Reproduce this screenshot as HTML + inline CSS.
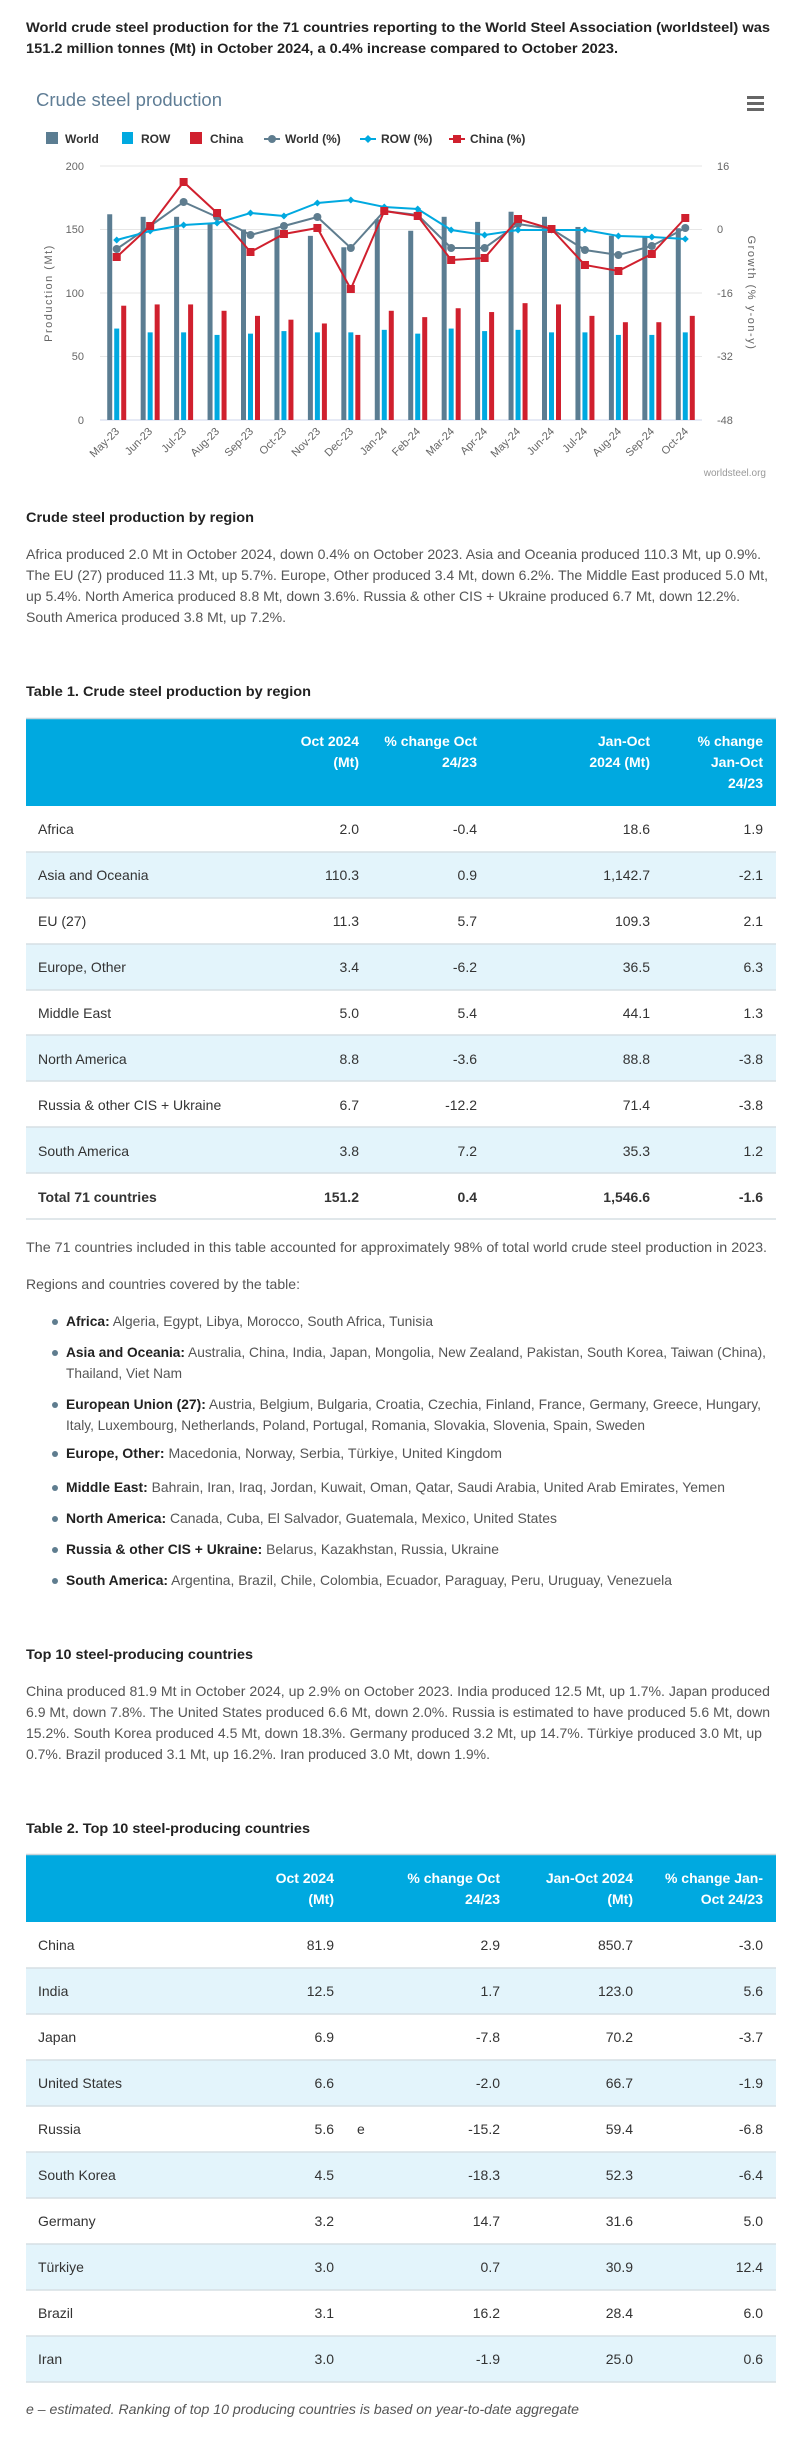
<!DOCTYPE html>
<html><head><meta charset="utf-8"><style>
html,body{margin:0;padding:0;background:#fff}
svg{display:block}
text{font-family:"Liberation Sans",Arial,sans-serif}
.b{font-weight:bold}
.body{font-size:14px;fill:#555}
.td{font-size:14px;fill:#333}
.th{font-size:14px;fill:#fff;font-weight:bold}
.ax{font-size:11px;fill:#666}
.lg{font-size:12px;fill:#333;font-weight:bold}
</style></head><body>
<svg id="s" width="788" height="2446" viewBox="0 0 788 2446" xmlns="http://www.w3.org/2000/svg">
<rect width="788" height="2446" fill="#fff"/>
<text x="26" y="32" class="b" font-size="14" fill="#222" textLength="744" lengthAdjust="spacingAndGlyphs">World crude steel production for the 71 countries reporting to the World Steel Association (worldsteel) was</text>
<text x="26" y="53" class="b" font-size="14" fill="#222" textLength="592" lengthAdjust="spacingAndGlyphs">151.2 million tonnes (Mt) in October 2024, a 0.4% increase compared to October 2023.</text>

<!-- chart -->
<text x="36" y="106" font-size="18" fill="#5f7d95" textLength="186" lengthAdjust="spacingAndGlyphs">Crude steel production</text>
<rect x="747" y="96" width="17" height="3" fill="#666"/><rect x="747" y="102" width="17" height="3" fill="#666"/><rect x="747" y="108" width="17" height="3" fill="#666"/>

<rect x="46" y="132" width="12" height="12" fill="#5b7d92"/><text x="65" y="143" class="lg">World</text>
<rect x="122" y="132" width="11" height="12" fill="#00a9e0"/><text x="141" y="143" class="lg">ROW</text>
<rect x="190" y="132" width="12" height="12" fill="#d0202e"/><text x="210" y="143" class="lg">China</text>
<line x1="264" y1="139" x2="280" y2="139" stroke="#5f7d8f" stroke-width="2"/><circle cx="272" cy="139" r="4" fill="#5f7d8f"/><text x="285" y="143" class="lg">World (%)</text>
<line x1="360" y1="139" x2="376" y2="139" stroke="#00a9e0" stroke-width="2"/><path d="M368 135 L372 139 L368 143 L364 139Z" fill="#00a9e0"/><text x="381" y="143" class="lg">ROW (%)</text>
<line x1="449" y1="139" x2="465" y2="139" stroke="#d0202e" stroke-width="2"/><rect x="453" y="135" width="8" height="8" fill="#d0202e"/><text x="470" y="143" class="lg">China (%)</text>

<g stroke="#e6e6e6" stroke-width="1">
<line x1="100" y1="166" x2="702" y2="166"/><line x1="100" y1="229.5" x2="702" y2="229.5"/><line x1="100" y1="293" x2="702" y2="293"/><line x1="100" y1="356.5" x2="702" y2="356.5"/>
</g>
<line x1="100" y1="420" x2="702" y2="420" stroke="#ccd6eb" stroke-width="1"/>
<g class="ax" text-anchor="end">
<text x="84" y="170">200</text><text x="84" y="233">150</text><text x="84" y="297">100</text><text x="84" y="360">50</text><text x="84" y="424">0</text>
</g>
<g class="ax">
<text x="717" y="170">16</text><text x="717" y="233">0</text><text x="717" y="297">-16</text><text x="717" y="360">-32</text><text x="717" y="424">-48</text>
</g>
<text transform="translate(52,293) rotate(-90)" text-anchor="middle" font-size="11" fill="#666" letter-spacing="1.5">Production (Mt)</text>
<text transform="translate(748,293) rotate(90)" text-anchor="middle" font-size="11" fill="#666" letter-spacing="1.5">Growth (% y-on-y)</text>
<g id="bars"></g><g id="lines"></g>
<text x="766" y="476" text-anchor="end" font-size="10" fill="#999">worldsteel.org</text>

<!-- section 1 -->
<text x="26" y="522" class="b" font-size="14" fill="#222" textLength="228" lengthAdjust="spacingAndGlyphs">Crude steel production by region</text>
<g class="body">
<text x="26" y="559" textLength="735" lengthAdjust="spacingAndGlyphs">Africa produced 2.0 Mt in October 2024, down 0.4% on October 2023. Asia and Oceania produced 110.3 Mt, up 0.9%.</text>
<text x="26" y="580" textLength="742" lengthAdjust="spacingAndGlyphs">The EU (27) produced 11.3 Mt, up 5.7%. Europe, Other produced 3.4 Mt, down 6.2%. The Middle East produced 5.0 Mt,</text>
<text x="26" y="601" textLength="714" lengthAdjust="spacingAndGlyphs">up 5.4%. North America produced 8.8 Mt, down 3.6%. Russia &amp; other CIS + Ukraine produced 6.7 Mt, down 12.2%.</text>
<text x="26" y="622" textLength="260" lengthAdjust="spacingAndGlyphs">South America produced 3.8 Mt, up 7.2%.</text>
</g>
<text x="26" y="696" class="b" font-size="14" fill="#222" textLength="285" lengthAdjust="spacingAndGlyphs">Table 1. Crude steel production by region</text>

<rect x="26" y="718" width="750" height="88" fill="#00a9e0"/>
<line x1="26" y1="718.5" x2="776" y2="718.5" stroke="#c8d3d9" stroke-width="1.5"/>
<g class="th" text-anchor="end">
<text x="359" y="746">Oct 2024</text><text x="359" y="767">(Mt)</text>
<text x="477" y="746">% change Oct</text><text x="477" y="767">24/23</text>
<text x="650" y="746">Jan-Oct</text><text x="650" y="767">2024 (Mt)</text>
<text x="763" y="746">% change</text><text x="763" y="767">Jan-Oct</text><text x="763" y="788">24/23</text>
</g>

<text x="26" y="1252" class="body" textLength="741" lengthAdjust="spacingAndGlyphs">The 71 countries included in this table accounted for approximately 98% of total world crude steel production in 2023.</text>
<text x="26" y="1289" class="body" textLength="274" lengthAdjust="spacingAndGlyphs">Regions and countries covered by the table:</text>
<g fill="#5f7d8f">
<circle cx="55" cy="1322" r="3"/><circle cx="55" cy="1353" r="3"/><circle cx="55" cy="1405" r="3"/><circle cx="55" cy="1454" r="3"/><circle cx="55" cy="1488" r="3"/><circle cx="55" cy="1519" r="3"/><circle cx="55" cy="1550" r="3"/><circle cx="55" cy="1581" r="3"/>
</g>
<g class="body">
<text x="66" y="1326" textLength="367" lengthAdjust="spacingAndGlyphs"><tspan class="b" fill="#222">Africa:</tspan> Algeria, Egypt, Libya, Morocco, South Africa, Tunisia</text>
<text x="66" y="1357" textLength="700" lengthAdjust="spacingAndGlyphs"><tspan class="b" fill="#222">Asia and Oceania:</tspan> Australia, China, India, Japan, Mongolia, New Zealand, Pakistan, South Korea, Taiwan (China),</text>
<text x="66" y="1378" textLength="116" lengthAdjust="spacingAndGlyphs">Thailand, Viet Nam</text>
<text x="66" y="1409" textLength="695" lengthAdjust="spacingAndGlyphs"><tspan class="b" fill="#222">European Union (27):</tspan> Austria, Belgium, Bulgaria, Croatia, Czechia, Finland, France, Germany, Greece, Hungary,</text>
<text x="66" y="1430" textLength="579" lengthAdjust="spacingAndGlyphs">Italy, Luxembourg, Netherlands, Poland, Portugal, Romania, Slovakia, Slovenia, Spain, Sweden</text>
<text x="66" y="1458" textLength="436" lengthAdjust="spacingAndGlyphs"><tspan class="b" fill="#222">Europe, Other:</tspan> Macedonia, Norway, Serbia, Türkiye, United Kingdom</text>
<text x="66" y="1492" textLength="659" lengthAdjust="spacingAndGlyphs"><tspan class="b" fill="#222">Middle East:</tspan> Bahrain, Iran, Iraq, Jordan, Kuwait, Oman, Qatar, Saudi Arabia, United Arab Emirates, Yemen</text>
<text x="66" y="1523" textLength="491" lengthAdjust="spacingAndGlyphs"><tspan class="b" fill="#222">North America:</tspan> Canada, Cuba, El Salvador, Guatemala, Mexico, United States</text>
<text x="66" y="1554" textLength="433" lengthAdjust="spacingAndGlyphs"><tspan class="b" fill="#222">Russia &amp; other CIS + Ukraine:</tspan> Belarus, Kazakhstan, Russia, Ukraine</text>
<text x="66" y="1585" textLength="606" lengthAdjust="spacingAndGlyphs"><tspan class="b" fill="#222">South America:</tspan> Argentina, Brazil, Chile, Colombia, Ecuador, Paraguay, Peru, Uruguay, Venezuela</text>
</g>

<text x="26" y="1659" class="b" font-size="14" fill="#222" textLength="227" lengthAdjust="spacingAndGlyphs">Top 10 steel-producing countries</text>
<g class="body">
<text x="26" y="1696" textLength="744" lengthAdjust="spacingAndGlyphs">China produced 81.9 Mt in October 2024, up 2.9% on October 2023. India produced 12.5 Mt, up 1.7%. Japan produced</text>
<text x="26" y="1717" textLength="744" lengthAdjust="spacingAndGlyphs">6.9 Mt, down 7.8%. The United States produced 6.6 Mt, down 2.0%. Russia is estimated to have produced 5.6 Mt, down</text>
<text x="26" y="1738" textLength="736" lengthAdjust="spacingAndGlyphs">15.2%. South Korea produced 4.5 Mt, down 18.3%. Germany produced 3.2 Mt, up 14.7%. Türkiye produced 3.0 Mt, up</text>
<text x="26" y="1759" textLength="464" lengthAdjust="spacingAndGlyphs">0.7%. Brazil produced 3.1 Mt, up 16.2%. Iran produced 3.0 Mt, down 1.9%.</text>
</g>
<text x="26" y="1833" class="b" font-size="14" fill="#222" textLength="284" lengthAdjust="spacingAndGlyphs">Table 2. Top 10 steel-producing countries</text>

<rect x="26" y="1854" width="750" height="68" fill="#00a9e0"/>
<line x1="26" y1="1854.5" x2="776" y2="1854.5" stroke="#c8d3d9" stroke-width="1.5"/>
<g class="th" text-anchor="end">
<text x="334" y="1883">Oct 2024</text><text x="334" y="1904">(Mt)</text>
<text x="500" y="1883">% change Oct</text><text x="500" y="1904">24/23</text>
<text x="633" y="1883">Jan-Oct 2024</text><text x="633" y="1904">(Mt)</text>
<text x="763" y="1883">% change Jan-</text><text x="763" y="1904">Oct 24/23</text>
</g>
<text x="26" y="2414" font-size="14" font-style="italic" fill="#555" textLength="553" lengthAdjust="spacingAndGlyphs">e – estimated. Ranking of top 10 producing countries is based on year-to-date aggregate</text>

<!-- table 1 rows -->
<g>
<rect x="26" y="852" width="750" height="46" fill="#e3f4fb"/>
<rect x="26" y="944" width="750" height="46" fill="#e3f4fb"/>
<rect x="26" y="1035" width="750" height="46" fill="#e3f4fb"/>
<rect x="26" y="1127" width="750" height="46" fill="#e3f4fb"/>
<g stroke="#d6dfe4" stroke-width="1.5">
<line x1="26" y1="852" x2="776" y2="852"/><line x1="26" y1="898" x2="776" y2="898"/><line x1="26" y1="944" x2="776" y2="944"/><line x1="26" y1="990" x2="776" y2="990"/><line x1="26" y1="1035" x2="776" y2="1035"/><line x1="26" y1="1081" x2="776" y2="1081"/><line x1="26" y1="1127" x2="776" y2="1127"/><line x1="26" y1="1173" x2="776" y2="1173"/><line x1="26" y1="1219" x2="776" y2="1219"/>
</g>
<g class="td">
<text x="38" y="834">Africa</text><text x="38" y="880">Asia and Oceania</text><text x="38" y="926">EU (27)</text><text x="38" y="972">Europe, Other</text><text x="38" y="1018">Middle East</text><text x="38" y="1064">North America</text><text x="38" y="1110">Russia &amp; other CIS + Ukraine</text><text x="38" y="1156">South America</text><text x="38" y="1202" class="b">Total 71 countries</text>
</g>
<g class="td" text-anchor="end">
<text x="359" y="834">2.0</text><text x="477" y="834">-0.4</text><text x="650" y="834">18.6</text><text x="763" y="834">1.9</text>
<text x="359" y="880">110.3</text><text x="477" y="880">0.9</text><text x="650" y="880">1,142.7</text><text x="763" y="880">-2.1</text>
<text x="359" y="926">11.3</text><text x="477" y="926">5.7</text><text x="650" y="926">109.3</text><text x="763" y="926">2.1</text>
<text x="359" y="972">3.4</text><text x="477" y="972">-6.2</text><text x="650" y="972">36.5</text><text x="763" y="972">6.3</text>
<text x="359" y="1018">5.0</text><text x="477" y="1018">5.4</text><text x="650" y="1018">44.1</text><text x="763" y="1018">1.3</text>
<text x="359" y="1064">8.8</text><text x="477" y="1064">-3.6</text><text x="650" y="1064">88.8</text><text x="763" y="1064">-3.8</text>
<text x="359" y="1110">6.7</text><text x="477" y="1110">-12.2</text><text x="650" y="1110">71.4</text><text x="763" y="1110">-3.8</text>
<text x="359" y="1156">3.8</text><text x="477" y="1156">7.2</text><text x="650" y="1156">35.3</text><text x="763" y="1156">1.2</text>
<g class="b"><text x="359" y="1202">151.2</text><text x="477" y="1202">0.4</text><text x="650" y="1202">1,546.6</text><text x="763" y="1202">-1.6</text></g>
</g>
</g>

<!-- table 2 rows -->
<g>
<rect x="26" y="1968" width="750" height="46" fill="#e3f4fb"/>
<rect x="26" y="2060" width="750" height="46" fill="#e3f4fb"/>
<rect x="26" y="2152" width="750" height="46" fill="#e3f4fb"/>
<rect x="26" y="2244" width="750" height="46" fill="#e3f4fb"/>
<rect x="26" y="2336" width="750" height="46" fill="#e3f4fb"/>
<g stroke="#d6dfe4" stroke-width="1.5">
<line x1="26" y1="1968" x2="776" y2="1968"/><line x1="26" y1="2014" x2="776" y2="2014"/><line x1="26" y1="2060" x2="776" y2="2060"/><line x1="26" y1="2106" x2="776" y2="2106"/><line x1="26" y1="2152" x2="776" y2="2152"/><line x1="26" y1="2198" x2="776" y2="2198"/><line x1="26" y1="2244" x2="776" y2="2244"/><line x1="26" y1="2290" x2="776" y2="2290"/><line x1="26" y1="2336" x2="776" y2="2336"/><line x1="26" y1="2382" x2="776" y2="2382"/>
</g>
<g class="td">
<text x="38" y="1950">China</text><text x="38" y="1996">India</text><text x="38" y="2042">Japan</text><text x="38" y="2088">United States</text><text x="38" y="2134">Russia</text><text x="38" y="2180">South Korea</text><text x="38" y="2226">Germany</text><text x="38" y="2272">Türkiye</text><text x="38" y="2318">Brazil</text><text x="38" y="2364">Iran</text>
<text x="357" y="2134">e</text>
</g>
<g class="td" text-anchor="end">
<text x="334" y="1950">81.9</text><text x="500" y="1950">2.9</text><text x="633" y="1950">850.7</text><text x="763" y="1950">-3.0</text>
<text x="334" y="1996">12.5</text><text x="500" y="1996">1.7</text><text x="633" y="1996">123.0</text><text x="763" y="1996">5.6</text>
<text x="334" y="2042">6.9</text><text x="500" y="2042">-7.8</text><text x="633" y="2042">70.2</text><text x="763" y="2042">-3.7</text>
<text x="334" y="2088">6.6</text><text x="500" y="2088">-2.0</text><text x="633" y="2088">66.7</text><text x="763" y="2088">-1.9</text>
<text x="334" y="2134">5.6</text><text x="500" y="2134">-15.2</text><text x="633" y="2134">59.4</text><text x="763" y="2134">-6.8</text>
<text x="334" y="2180">4.5</text><text x="500" y="2180">-18.3</text><text x="633" y="2180">52.3</text><text x="763" y="2180">-6.4</text>
<text x="334" y="2226">3.2</text><text x="500" y="2226">14.7</text><text x="633" y="2226">31.6</text><text x="763" y="2226">5.0</text>
<text x="334" y="2272">3.0</text><text x="500" y="2272">0.7</text><text x="633" y="2272">30.9</text><text x="763" y="2272">12.4</text>
<text x="334" y="2318">3.1</text><text x="500" y="2318">16.2</text><text x="633" y="2318">28.4</text><text x="763" y="2318">6.0</text>
<text x="334" y="2364">3.0</text><text x="500" y="2364">-1.9</text><text x="633" y="2364">25.0</text><text x="763" y="2364">0.6</text>
</g>
</g>

<g class="ax" text-anchor="end">
<text transform="translate(120,432) rotate(-45)">May-23</text>
<text transform="translate(153,432) rotate(-45)">Jun-23</text>
<text transform="translate(187,432) rotate(-45)">Jul-23</text>
<text transform="translate(220,432) rotate(-45)">Aug-23</text>
<text transform="translate(254,432) rotate(-45)">Sep-23</text>
<text transform="translate(287,432) rotate(-45)">Oct-23</text>
<text transform="translate(321,432) rotate(-45)">Nov-23</text>
<text transform="translate(354,432) rotate(-45)">Dec-23</text>
<text transform="translate(388,432) rotate(-45)">Jan-24</text>
<text transform="translate(421,432) rotate(-45)">Feb-24</text>
<text transform="translate(455,432) rotate(-45)">Mar-24</text>
<text transform="translate(488,432) rotate(-45)">Apr-24</text>
<text transform="translate(521,432) rotate(-45)">May-24</text>
<text transform="translate(555,432) rotate(-45)">Jun-24</text>
<text transform="translate(588,432) rotate(-45)">Jul-24</text>
<text transform="translate(622,432) rotate(-45)">Aug-24</text>
<text transform="translate(655,432) rotate(-45)">Sep-24</text>
<text transform="translate(689,432) rotate(-45)">Oct-24</text>
</g>
</svg>
<script>
(function(){
var NS="http://www.w3.org/2000/svg";
function el(t,a,p){var e=document.createElementNS(NS,t);for(var k in a)e.setAttribute(k,a[k]);p.appendChild(e);return e;}
var W=[162,160,160,155,150,150,145,136,158,149,160,156,164,160,152,145,144,151];
var R=[72,69,69,67,68,70,69,69,71,68,72,70,71,69,69,67,67,69];
var C=[90,91,91,86,82,79,76,67,86,81,88,85,92,91,82,77,77,82];
var WP=[249,226,202,217,235,226,217,248,211,215,248,248,224,229,250,255,246,228];
var RP=[240,231,225,223,213,216,203,200,207,209,230,235,230,230,230,236,237,239];
var CP=[257,226,182,213,252,234,228,289,211,216,260,258,219,229,265,271,254,218];
var bars=document.getElementById("bars"),lines=document.getElementById("lines");
var w=602/18;
for(var i=0;i<18;i++){var cx=100+w*(i+0.5);
 [[W,-9.5,"#5b7d92"],[R,-2.5,"#00a9e0"],[C,4.5,"#d0202e"]].forEach(function(s){
  var v=s[0][i];el("rect",{x:cx+s[1],y:420-v*1.27,width:5,height:v*1.27,fill:s[2]},bars);});
}
function line(arr,col,mk){var pts=[];for(var i=0;i<18;i++)pts.push((100+w*(i+0.5)).toFixed(1)+","+arr[i]);
 el("polyline",{points:pts.join(" "),fill:"none",stroke:col,"stroke-width":2},lines);
 for(var i=0;i<18;i++){var x=100+w*(i+0.5),y=arr[i];
  if(mk=="c")el("circle",{cx:x,cy:y,r:4,fill:col},lines);
  else if(mk=="d")el("path",{d:"M"+x+" "+(y-3.5)+"L"+(x+3.5)+" "+y+"L"+x+" "+(y+3.5)+"L"+(x-3.5)+" "+y+"Z",fill:col},lines);
  else el("rect",{x:x-4,y:y-4,width:8,height:8,fill:col},lines);}
}
line(WP,"#5f7d8f","c");line(RP,"#00a9e0","d");line(CP,"#d0202e","s");
})();
</script>
</body></html>
